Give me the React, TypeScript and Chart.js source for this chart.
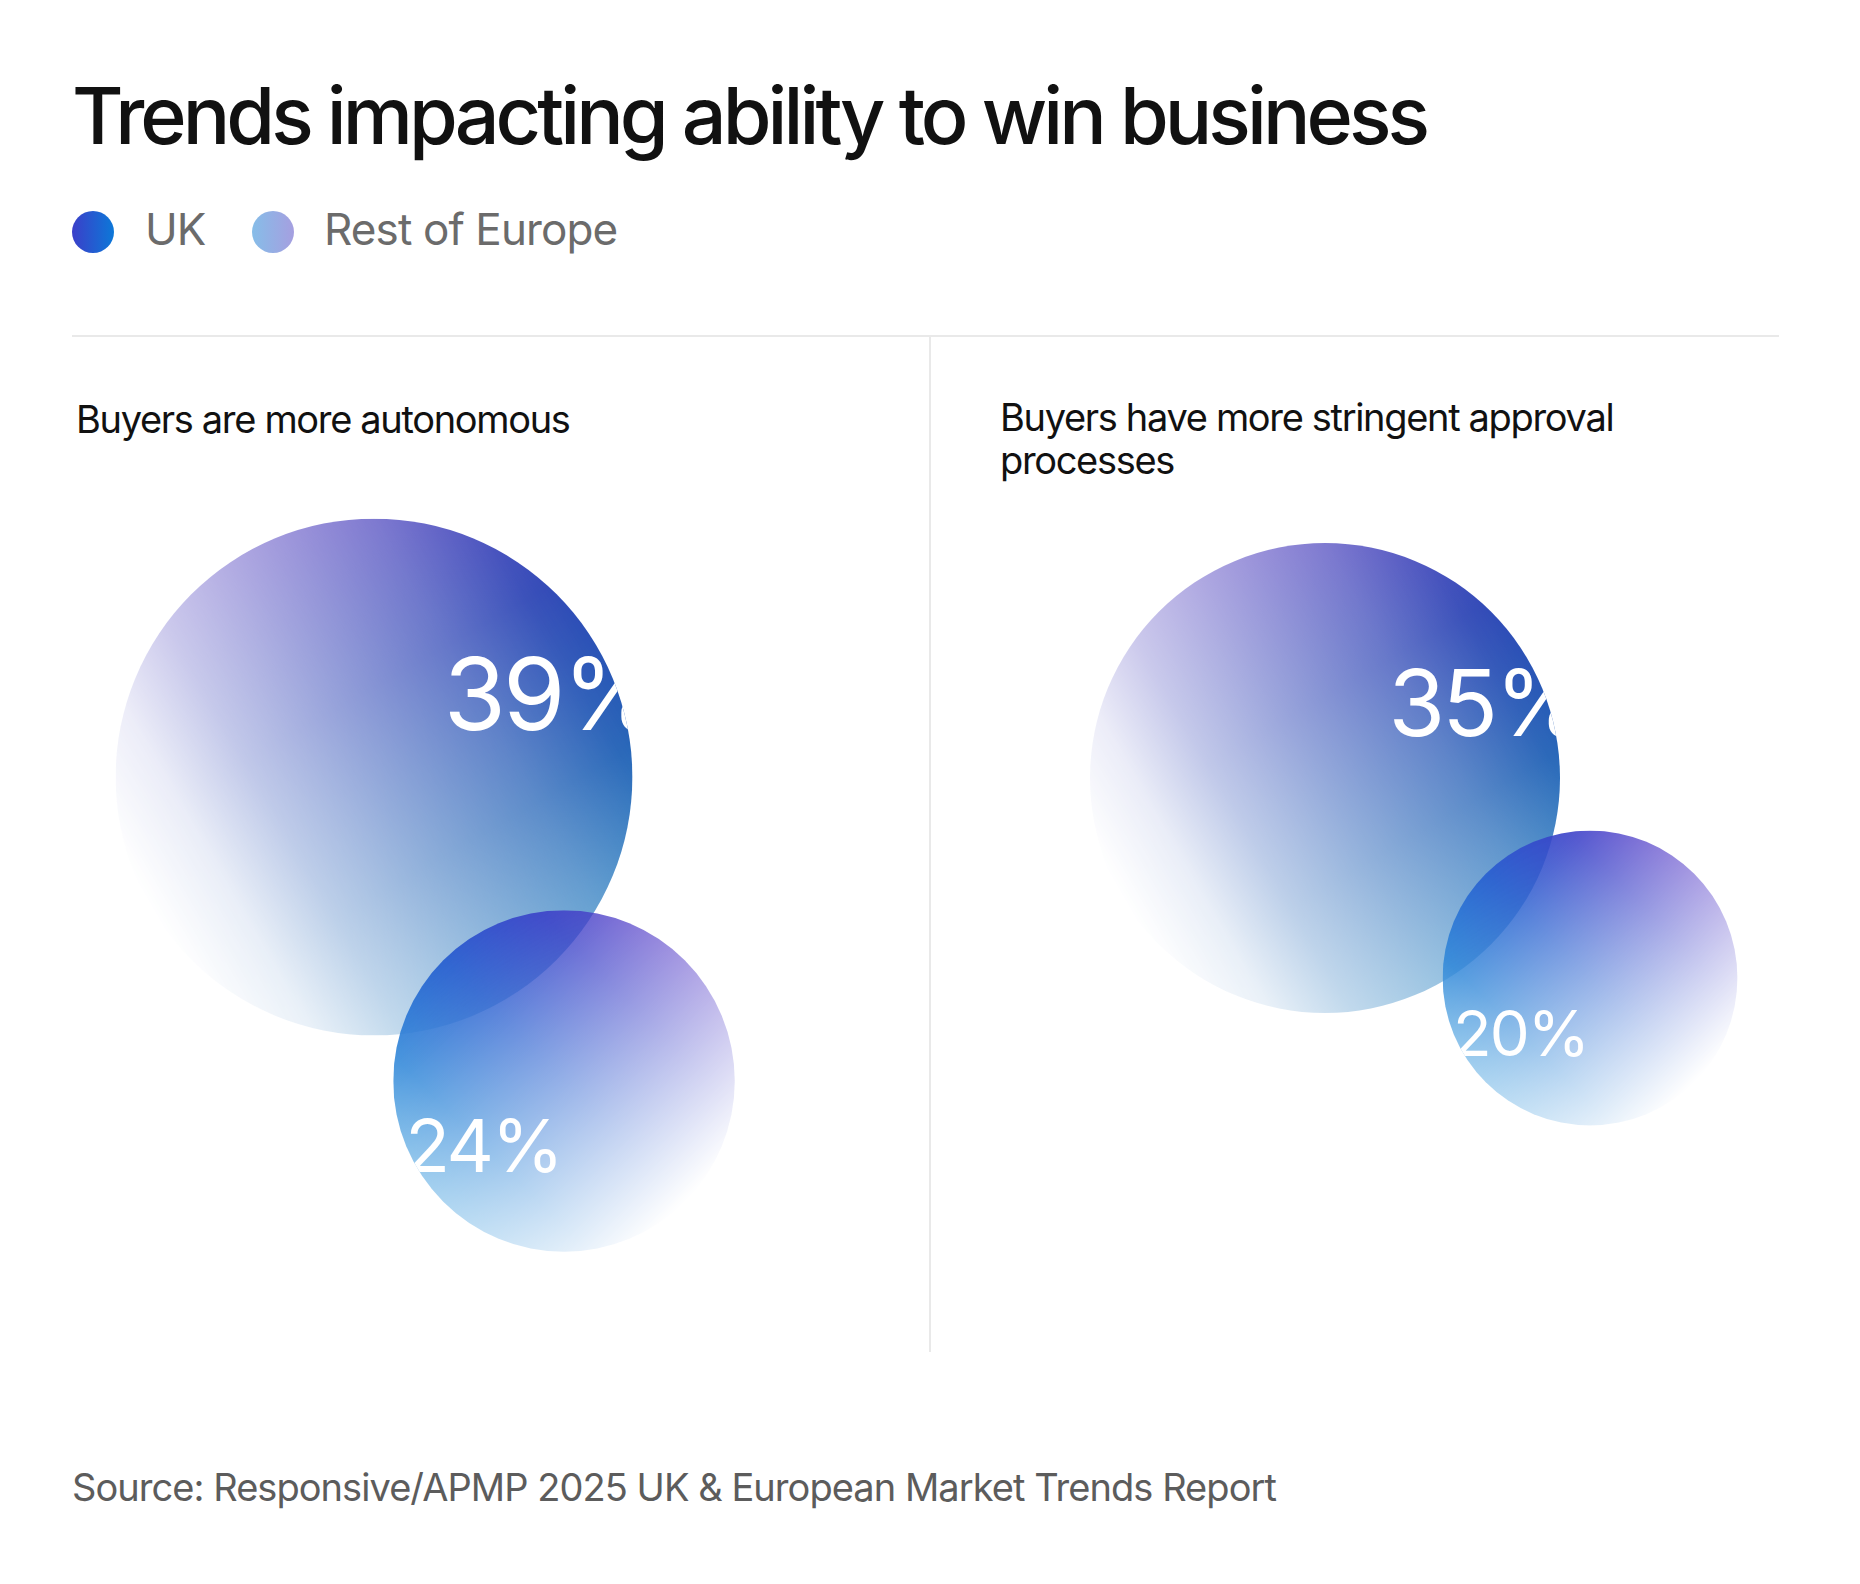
import React, { useEffect, useRef } from "react";
import { Chart, registerables } from "chart.js";

Chart.register(...registerables);

// ---------- data ----------
const TITLE = "Trends impacting ability to win business";
const SERIES = ["UK", "Rest of Europe"];
const PANEL_TITLES = ["Buyers are more autonomous", "Buyers have more stringent approval processes"];
const UK_VALUES = [39, 35];
const EUROPE_VALUES = [24, 20];
const SOURCE = "Source: Responsive/APMP 2025 UK & European Market Trends Report";

// ---------- layout (page pixel units, used by the chart's linear scales) ----------
const UK_CENTERS = [
  [374, 777],
  [1325, 778],
];
const EUROPE_CENTERS = [
  [564, 1081],
  [1590, 978],
];
const CANVAS_TOP = 470;
const CANVAS_H = 840;
const PAGE_W = 1860;

// bubble radius (px) from value
const radiusFor = (v: number) => 30.6 + 5.84 * v;

type FillSpec = {
  hueDir: [number, number];
  hueStops: [number, string][];
  alphaDir: [number, number];
  alphaStops: [number, number][];
};

const FILL_SPECS: FillSpec[] = [
  {
    // UK
    hueDir: [0.5, 0.866],
    hueStops: [
      [0, "#5a4cc2"],
      [0.35, "#3048b6"],
      [0.7, "#2262b6"],
      [1, "#3588c4"],
    ],
    alphaDir: [0.866, -0.5],
    alphaStops: [
      [0, 0],
      [0.15, 0.1],
      [0.3, 0.3],
      [0.5, 0.5],
      [0.75, 0.74],
      [0.93, 0.95],
      [1, 1],
    ],
  },
  {
    // Rest of Europe
    hueDir: [-0.707, 0.707],
    hueStops: [
      [0, "#5038c6"],
      [0.2, "#3a40c8"],
      [0.5, "#2c62d0"],
      [0.8, "#2f86d8"],
      [1, "#5aaae2"],
    ],
    alphaDir: [-0.707, -0.707],
    alphaStops: [
      [0, 0],
      [0.146, 0.15],
      [0.5, 0.5],
      [0.854, 0.85],
      [1, 0.97],
    ],
  },
];

const LABEL_STYLE = [
  { font: 0.39, dx: 0.27, dy: -0.18 },
  { font: 0.43, dx: -0.93, dy: 0.53 },
];

function makeFill(chart: any, cx: number, cy: number, r: number, spec: FillSpec) {
  const dpr = chart.currentDevicePixelRatio || 1;
  const size = Math.ceil(2 * r * dpr) + 2;
  const off = document.createElement("canvas");
  off.width = size;
  off.height = size;
  const g = off.getContext("2d")!;
  g.scale(dpr, dpr);
  const [hx, hy] = spec.hueDir;
  const hue = g.createLinearGradient(r - hx * r, r - hy * r, r + hx * r, r + hy * r);
  spec.hueStops.forEach(([o, c]) => hue.addColorStop(o, c));
  g.fillStyle = hue;
  g.fillRect(0, 0, 2 * r + 1, 2 * r + 1);
  g.globalCompositeOperation = "destination-in";
  const [ax, ay] = spec.alphaDir;
  const al = g.createLinearGradient(r - ax * r, r - ay * r, r + ax * r, r + ay * r);
  spec.alphaStops.forEach(([o, a]) => al.addColorStop(o, `rgba(0,0,0,${a})`));
  g.fillStyle = al;
  g.fillRect(0, 0, 2 * r + 1, 2 * r + 1);
  const pattern = chart.ctx.createPattern(off, "no-repeat");
  pattern.setTransform(new DOMMatrix().translate(cx - r, cy - r).scale(1 / dpr));
  return pattern;
}

const labelPlugin = {
  id: "bubbleLabels",
  afterDatasetsDraw(chart: any) {
    const ctx = chart.ctx as CanvasRenderingContext2D;
    chart.data.datasets.forEach((ds: any, di: number) => {
      const meta = chart.getDatasetMeta(di);
      const st = LABEL_STYLE[di];
      meta.data.forEach((el: any, i: number) => {
        const r = el.options.radius;
        const x = el.x;
        const y = el.y;
        ctx.save();
        ctx.beginPath();
        ctx.arc(x, y, r, 0, Math.PI * 2);
        ctx.clip();
        ctx.fillStyle = "#ffffff";
        const fs = st.font * r;
        ctx.font = `400 ${fs}px Inter`;
        (ctx as any).letterSpacing = `${(-0.03 * fs).toFixed(2)}px`;
        ctx.textAlign = "left";
        ctx.textBaseline = "alphabetic";
        ctx.fillText(`${ds.data[i].v}%`, x + st.dx * r, y + st.dy * r);
        ctx.restore();
      });
    });
  },
};

function bubbleData(values: number[], centers: number[][]) {
  return values.map((v, i) => ({ x: centers[i][0], y: centers[i][1], v }));
}

const bg = (ctx: any) => {
  const fallback = ctx.datasetIndex === 1 ? "#8ab0e4" : "#3048b6";
  if (ctx.type !== "data" || !ctx.raw) return fallback;
  const chart = ctx.chart;
  const xs = chart.scales.x;
  const ys = chart.scales.y;
  if (!xs || !ys || !chart.chartArea) return fallback;
  const cx = xs.getPixelForValue(ctx.raw.x);
  const cy = ys.getPixelForValue(ctx.raw.y);
  if (!isFinite(cx) || !isFinite(cy)) return fallback;
  try {
    return makeFill(chart, cx, cy, radiusFor(ctx.raw.v), FILL_SPECS[ctx.datasetIndex]);
  } catch (e) {
    return fallback;
  }
};

const rad = (ctx: any) => (ctx.type === "data" && ctx.raw ? radiusFor(ctx.raw.v) : 3);

export default function App() {
  const ref = useRef<HTMLCanvasElement>(null);

  useEffect(() => {
    if (!ref.current) return;
    const chart = new Chart(ref.current, {
      type: "bubble",
      data: {
        datasets: [
          {
            label: SERIES[0],
            data: bubbleData(UK_VALUES, UK_CENTERS) as any,
            backgroundColor: bg,
            radius: rad,
            borderWidth: 0,
            order: 1,
            clip: false,
          } as any,
          {
            label: SERIES[1],
            data: bubbleData(EUROPE_VALUES, EUROPE_CENTERS) as any,
            backgroundColor: bg,
            radius: rad,
            borderWidth: 0,
            order: 0,
            clip: false,
          } as any,
        ],
      },
      options: {
        animation: false,
        responsive: false,
        events: [],
        layout: { padding: 0, autoPadding: false },
        scales: {
          x: { type: "linear", display: false, min: 0, max: PAGE_W },
          y: { type: "linear", display: false, min: CANVAS_TOP, max: CANVAS_TOP + CANVAS_H, reverse: true },
        },
        plugins: {
          legend: { display: false },
          tooltip: { enabled: false },
        },
      },
      plugins: [labelPlugin],
    });
    return () => chart.destroy();
  }, []);

  const abs = (s: React.CSSProperties): React.CSSProperties => ({ position: "absolute", margin: 0, ...s });

  return (
    <div
      style={{
        position: "absolute",
        left: 0,
        top: 0,
        width: PAGE_W,
        height: 1584,
        background: "#ffffff",
        fontFamily: "Inter, 'Noto Sans', sans-serif",
        overflow: "hidden",
      }}
    >
      <div
        style={abs({
          left: 72,
          top: 76,
          fontSize: 79,
          lineHeight: "79px",
          fontWeight: 500,
          letterSpacing: "-0.05em",
          color: "#111111",
          whiteSpace: "nowrap",
        })}
      >
        {TITLE}
      </div>

      {/* legend */}
      <div
        style={abs({
          left: 72,
          top: 211,
          width: 42,
          height: 42,
          borderRadius: "50%",
          background: "linear-gradient(90deg, #3b3fc9, #0c78d8)",
        })}
      />
      <div
        style={abs({
          left: 145,
          top: 207,
          fontSize: 44,
          lineHeight: "44px",
          color: "#6b6b6b",
          letterSpacing: "-0.02em",
          whiteSpace: "nowrap",
        })}
      >
        {SERIES[0]}
      </div>
      <div
        style={abs({
          left: 252,
          top: 211,
          width: 42,
          height: 42,
          borderRadius: "50%",
          background: "linear-gradient(90deg, #86bde8, #a59fe0)",
        })}
      />
      <div
        style={abs({
          left: 324,
          top: 207,
          fontSize: 44,
          lineHeight: "44px",
          color: "#6b6b6b",
          letterSpacing: "-0.02em",
          whiteSpace: "nowrap",
        })}
      >
        {SERIES[1]}
      </div>

      {/* dividers */}
      <div style={abs({ left: 72, top: 335, width: 1707, height: 2, background: "#e9e9e9" })} />
      <div style={abs({ left: 929, top: 336, width: 2, height: 1016, background: "#e9e9e9" })} />

      {/* panel titles */}
      <div
        style={abs({
          left: 76,
          top: 398,
          width: 820,
          fontSize: 38,
          lineHeight: "43px",
          color: "#111111",
          letterSpacing: "-0.035em",
        })}
      >
        {PANEL_TITLES[0]}
      </div>
      <div
        style={abs({
          left: 1000,
          top: 396,
          width: 700,
          fontSize: 38,
          lineHeight: "43px",
          color: "#111111",
          letterSpacing: "-0.035em",
        })}
      >
        {PANEL_TITLES[1]}
      </div>

      <canvas
        ref={ref}
        width={PAGE_W}
        height={CANVAS_H}
        style={{ position: "absolute", left: 0, top: CANVAS_TOP, width: PAGE_W, height: CANVAS_H }}
      />

      <div
        style={abs({
          left: 72,
          top: 1468,
          fontSize: 38,
          lineHeight: "38px",
          color: "#5c5c5c",
          letterSpacing: "-0.025em",
          whiteSpace: "nowrap",
        })}
      >
        {SOURCE}
      </div>
    </div>
  );
}
